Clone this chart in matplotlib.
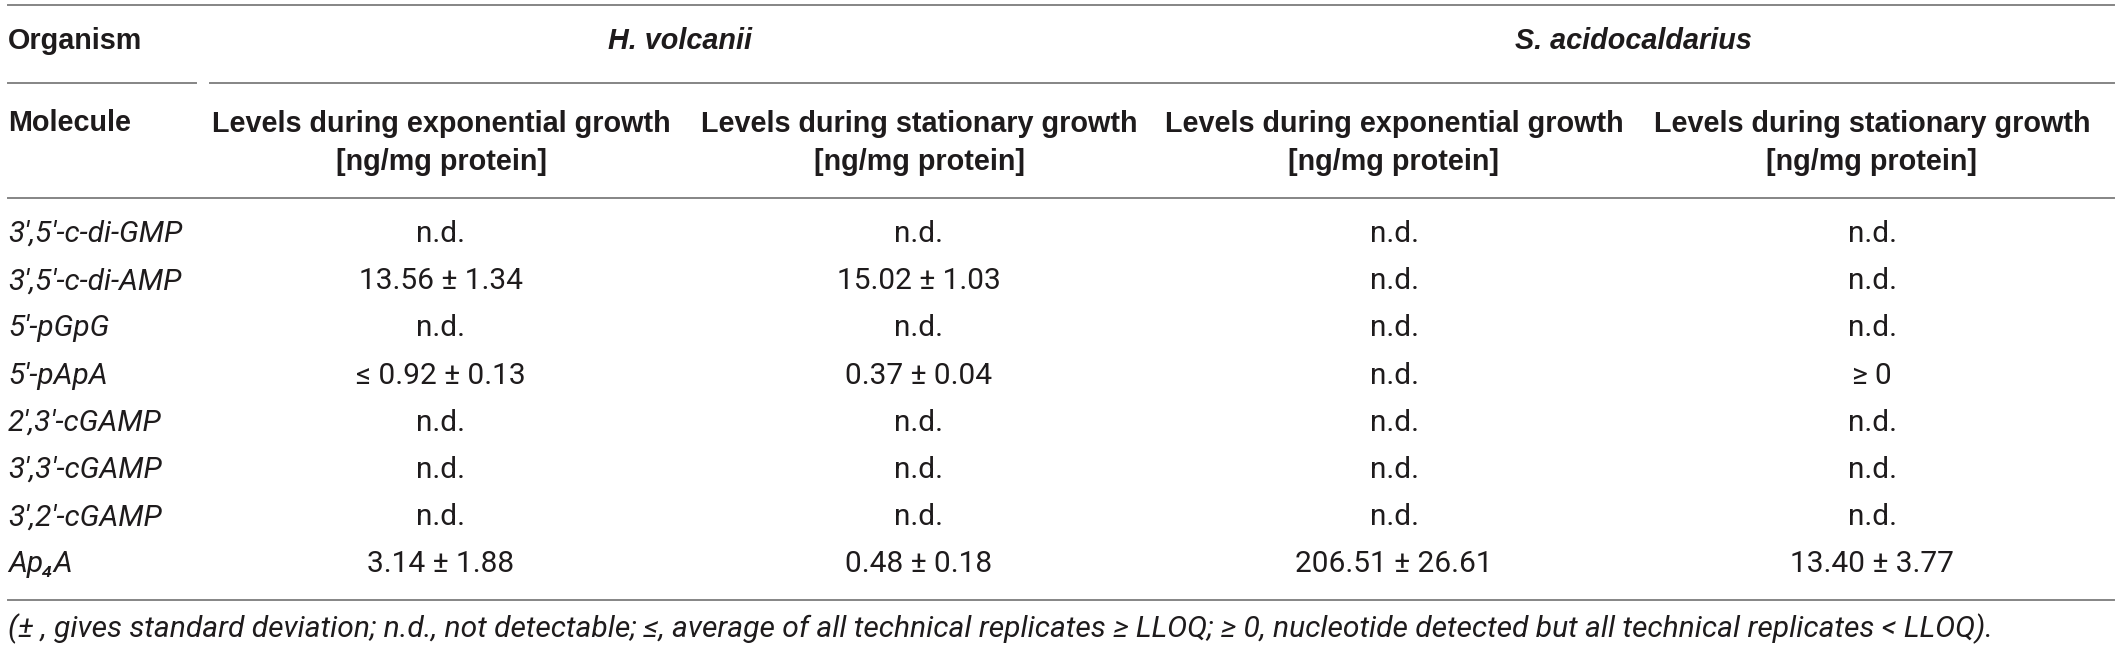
import matplotlib
matplotlib.use("Agg")
import matplotlib.pyplot as plt

# table content
organisms = ["H. volcanii", "S. acidocaldarius"]
col_headers = ["Levels during exponential growth\n[ng/mg protein]",
               "Levels during stationary growth\n[ng/mg protein]",
               "Levels during exponential growth\n[ng/mg protein]",
               "Levels during stationary growth\n[ng/mg protein]"]
molecules = ["3\u2032,5\u2032-c-di-GMP", "3\u2032,5\u2032-c-di-AMP", "5\u2032-pGpG", "5\u2032-pApA",
             "2\u2032,3\u2032-cGAMP", "3\u2032,3\u2032-cGAMP", "3\u2032,2\u2032-cGAMP", "Ap\u2084A"]
hv_exp = ["n.d.", "13.56 \u00b1 1.34", "n.d.", "\u2264 0.92 \u00b1 0.13", "n.d.", "n.d.", "n.d.", "3.14 \u00b1 1.88"]
hv_stat = ["n.d.", "15.02 \u00b1 1.03", "n.d.", "0.37 \u00b1 0.04", "n.d.", "n.d.", "n.d.", "0.48 \u00b1 0.18"]
sa_exp = ["n.d.", "n.d.", "n.d.", "n.d.", "n.d.", "n.d.", "n.d.", "206.51 \u00b1 26.61"]
sa_stat = ["n.d.", "n.d.", "n.d.", "\u2265 0", "n.d.", "n.d.", "n.d.", "13.40 \u00b1 3.77"]
footnote = ("(\u00b1 , gives standard deviation; n.d., not detectable; \u2264, average of all technical "
            "replicates \u2265 LLOQ; \u2265 0, nucleotide detected but all technical replicates < LLOQ).")

W, H = 2120, 649
fig = plt.figure(figsize=(W / 100, H / 100), dpi=100)
ax = fig.add_axes([0, 0, 1, 1])
ax.set_xlim(0, W)
ax.set_ylim(H, 0)
ax.axis("off")

ink = "#1e1b1c"
rule = "#858585"
bold = dict(family=["Liberation Sans", "DejaVu Sans"], weight="bold", fontsize=20.7, color=ink)
body = dict(family=["Roboto", "DejaVu Sans"], weight="normal", fontsize=21.5, color=ink)

left, right = 8, 2114
bounds = [202, 680, 1158, 1630, 2114]
centers = [(a + b) / 2 for a, b in zip(bounds[:-1], bounds[1:])]
y_org, y_head, y_row0, row_h = 41, 123, 234, 47.2

# rules
ax.plot([left, right], [5, 5], color=rule, lw=1.4)
ax.plot([left, 196], [83, 83], color=rule, lw=1.4)
ax.plot([210, right], [83, 83], color=rule, lw=1.4)
ax.plot([left, right], [198, 198], color=rule, lw=1.4)
ax.plot([left, right], [600, 600], color=rule, lw=1.4)

# organism row
ax.text(left, y_org, "Organism", ha="left", va="center", **bold)
for i, org in enumerate(organisms):
    cx = (centers[2 * i] + centers[2 * i + 1]) / 2
    ax.text(cx, y_org, org, ha="center", va="center", style="italic", **bold)

# column headers
ax.text(left, y_head, "Molecule", ha="left", va="center", **bold)
for cx, h in zip(centers, col_headers):
    ax.text(cx, y_head - 13, h, ha="center", va="top", linespacing=1.45, **bold)

# body
cols = [hv_exp, hv_stat, sa_exp, sa_stat]
for r, mol in enumerate(molecules):
    y = y_row0 + r * row_h
    ax.text(left, y, mol, ha="left", va="center", style="italic", **body)
    for cx, col in zip(centers, cols):
        ax.text(cx, y, col[r], ha="center", va="center", **body)

ax.text(left, 629, footnote, ha="left", va="center", style="italic",
        family=["Roboto", "DejaVu Sans"], weight="normal", fontsize=21.6, color=ink)

fig.savefig("out.png", dpi=100)
